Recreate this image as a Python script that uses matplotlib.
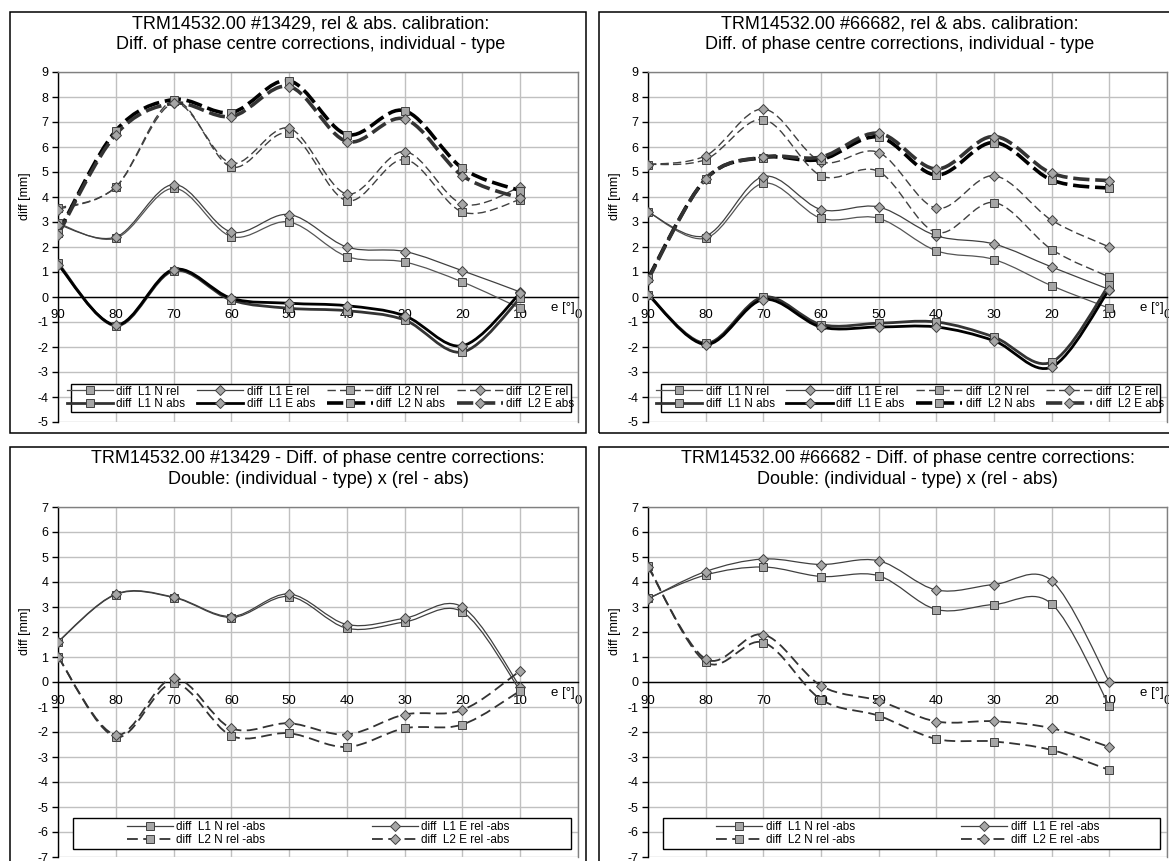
import matplotlib
matplotlib.use("Agg")
import matplotlib.pyplot as plt
from matplotlib.path import Path
from matplotlib.patches import PathPatch, Rectangle
from matplotlib.lines import Line2D
import numpy as np

plt.rcParams["font.family"] = ["Liberation Sans", "DejaVu Sans"]
plt.rcParams["axes.unicode_minus"] = False

# elevation angles [deg]
elev = [90, 80, 70, 60, 50, 40, 30, 20, 10]

# TRM14532.00 #13429 - individual minus type
a_l1n_rel = [2.95, 2.35, 4.35, 2.42, 3.0, 1.62, 1.4, 0.6, -0.45]
a_l1e_rel = [2.9, 2.4, 4.5, 2.6, 3.3, 2.0, 1.82, 1.05, 0.2]
a_l2n_rel = [3.55, 4.4, 7.85, 5.2, 6.55, 3.85, 5.5, 3.4, 3.9]
a_l2e_rel = [3.5, 4.4, 7.75, 5.35, 6.75, 4.12, 5.82, 3.72, 4.4]
a_l1n_abs = [1.35, -1.15, 1.05, -0.12, -0.45, -0.55, -0.92, -2.2, -0.05]
a_l1e_abs = [1.3, -1.12, 1.1, -0.05, -0.25, -0.35, -0.75, -1.95, 0.15]
a_l2n_abs = [2.55, 6.65, 7.9, 7.38, 8.65, 6.5, 7.45, 5.15, 4.25]
a_l2e_abs = [2.5, 6.5, 7.75, 7.22, 8.42, 6.22, 7.12, 4.85, 3.95]

# TRM14532.00 #66682 - individual minus type
b_l1n_rel = [3.4, 2.35, 4.55, 3.15, 3.15, 1.85, 1.5, 0.45, -0.45]
b_l1e_rel = [3.4, 2.45, 4.82, 3.5, 3.6, 2.45, 2.12, 1.2, 0.3]
b_l2n_rel = [5.3, 5.5, 7.1, 4.85, 5.02, 2.58, 3.78, 1.9, 0.8]
b_l2e_rel = [5.3, 5.65, 7.52, 5.42, 5.78, 3.55, 4.85, 3.07, 2.0]
b_l1n_abs = [0.1, -1.85, 0.0, -1.1, -1.05, -1.0, -1.6, -2.6, 0.5]
b_l1e_abs = [0.1, -1.9, -0.1, -1.2, -1.2, -1.2, -1.75, -2.8, 0.3]
b_l2n_abs = [0.75, 4.72, 5.58, 5.5, 6.4, 4.88, 6.18, 4.68, 4.35]
b_l2e_abs = [0.7, 4.72, 5.6, 5.6, 6.55, 5.12, 6.42, 4.95, 4.65]

# double differences (rel - abs)
a_l1n_dd = [1.6, 3.5, 3.38, 2.58, 3.42, 2.15, 2.4, 2.8, -0.35]
a_l1e_dd = [1.62, 3.52, 3.4, 2.62, 3.52, 2.3, 2.55, 3.0, -0.2]
a_l2n_dd = [1.02, -2.2, -0.05, -2.15, -2.05, -2.6, -1.85, -1.7, -0.35]
a_l2e_dd = [1.0, -2.12, 0.15, -1.85, -1.65, -2.1, -1.3, -1.12, 0.45]

b_l1n_dd = [3.35, 4.28, 4.6, 4.22, 4.25, 2.9, 3.1, 3.12, -0.95]
b_l1e_dd = [3.32, 4.42, 4.92, 4.7, 4.85, 3.68, 3.9, 4.05, 0.0]
b_l2n_dd = [4.65, 0.8, 1.58, -0.7, -1.35, -2.28, -2.38, -2.72, -3.52]
b_l2e_dd = [4.6, 0.92, 1.9, -0.15, -0.75, -1.58, -1.57, -1.85, -2.6]

x_ticks = [90, 80, 70, 60, 50, 40, 30, 20, 10, 0]

W, H = 1169, 861
fig = plt.figure(figsize=(W / 100, H / 100), dpi=100)
fig.patch.set_facecolor("white")


def px_rect(x0, y0, x1, y1):
    return [x0 / W, 1 - y1 / H, (x1 - x0) / W, (y1 - y0) / H]


def smooth_path(x, y):
    # excel-like smoothed line (cubic bezier through the points)
    pts = np.column_stack([x, y]).astype(float)
    n = len(pts)
    verts = [pts[0]]
    codes = [Path.MOVETO]
    for i in range(n - 1):
        p0 = pts[i - 1] if i > 0 else pts[i]
        p1, p2 = pts[i], pts[i + 1]
        p3 = pts[i + 2] if i + 2 < n else pts[i + 1]
        verts += [p1 + (p2 - p0) / 6, p2 - (p3 - p1) / 6, p2]
        codes += [Path.CURVE4] * 3
    return Path(verts, codes)


MFC = "#a6a6a6"
MEC = "#404040"


def series(ax, y, color, lw, ls, marker):
    ms = 5.5 if marker == "s" else 5.0
    ax.add_patch(PathPatch(smooth_path(elev, y), fill=False, edgecolor=color,
                           lw=lw, linestyle=ls, zorder=3, capstyle="butt"))
    ax.plot(elev, y, linestyle="none", marker=marker, ms=ms,
            mfc=MFC, mec=MEC, mew=0.7, zorder=4)
    return Line2D([], [], color=color, lw=lw, linestyle=ls, marker=marker,
                  ms=ms, mfc=MFC, mec=MEC, mew=0.7)


def setup_axes(ax, ymin, ymax, title, tx):
    ax.set_xlim(90, 0)
    ax.set_ylim(ymin, ymax)
    ax.set_xticks(x_ticks)
    ax.set_xticklabels([str(v) for v in x_ticks])
    ax.set_yticks(range(ymin, ymax + 1))
    ax.grid(True, color="#c0c0c0", lw=1.0)
    ax.set_axisbelow(True)
    for s in ("top", "right"):
        ax.spines[s].set_color("#808080")
        ax.spines[s].set_linewidth(1.0)
    ax.spines["left"].set_color("black")
    ax.spines["left"].set_linewidth(1.0)
    ax.spines["bottom"].set_position(("data", 0))
    ax.spines["bottom"].set_color("black")
    ax.spines["bottom"].set_linewidth(1.0)
    ax.tick_params(axis="y", direction="out", length=4, width=1, pad=3, labelsize=9)
    ax.tick_params(axis="x", length=0, pad=9, labelsize=9.5)
    ax.text(2.6, -0.2, "e [°]", ha="center", va="top", fontsize=9.5, zorder=6)
    ax.set_ylabel("diff [mm]", fontsize=9)
    ax.yaxis.set_label_coords(-0.052, 0.645)
    ax.text(tx, 1.108, title, transform=ax.transAxes, ha="center", va="center",
            fontsize=13, linespacing=1.3)


def legend_box(ax, x0, y0, x1, y1):
    ax.add_patch(Rectangle((x0, y0), x1 - x0, y1 - y0, transform=ax.transAxes,
                           facecolor="white", edgecolor="black", lw=1.0, zorder=5,
                           clip_on=False))


def top_panel(ax, d, title):
    setup_axes(ax, -5, 9, title, 0.485)
    l1nr, l1er, l2nr, l2er, l1na, l1ea, l2na, l2ea = d
    h = [
        series(ax, l1nr, "#555555", 0.9, "-", "s"),
        series(ax, l1er, "#404040", 0.9, "-", "D"),
        series(ax, l2nr, "#404040", 1.0, (0, (6, 3)), "s"),
        series(ax, l2er, "#404040", 1.0, (0, (6, 3)), "D"),
        series(ax, l1na, "#333333", 2.0, "-", "s"),
        series(ax, l1ea, "#000000", 2.0, "-", "D"),
        series(ax, l2na, "#000000", 2.6, (0, (4.5, 1.6)), "s"),
        series(ax, l2ea, "#333333", 2.6, (0, (4.5, 1.6)), "D"),
    ]
    labels = ["diff  L1 N rel", "diff  L1 E rel", "diff  L2 N rel", "diff  L2 E rel",
              "diff  L1 N abs", "diff  L1 E abs", "diff  L2 N abs", "diff  L2 E abs"]
    order = [0, 4, 1, 5, 2, 6, 3, 7]
    legend_box(ax, 0.025, 0.029, 0.987, 0.109)
    leg = ax.legend([h[i] for i in order], [labels[i] for i in order], ncol=4,
                    loc="center", bbox_to_anchor=(0.505, 0.069), frameon=False,
                    fontsize=8.5, handlelength=3.9, handletextpad=0.3,
                    columnspacing=1.0, labelspacing=0.05, borderpad=0)
    leg.set_zorder(6)


def bottom_panel(ax, d, title):
    setup_axes(ax, -7, 7, title, 0.5)
    l1n, l1e, l2n, l2e = d
    h = [
        series(ax, l1n, "#404040", 0.9, "-", "s"),
        series(ax, l1e, "#404040", 0.9, "-", "D"),
        series(ax, l2n, "#333333", 1.3, (0, (6, 3)), "s"),
        series(ax, l2e, "#333333", 1.3, (0, (6, 3)), "D"),
    ]
    labels = ["diff  L1 N rel -abs", "diff  L1 E rel -abs",
              "diff  L2 N rel -abs", "diff  L2 E rel -abs"]
    order = [0, 2, 1, 3]
    legend_box(ax, 0.029, 0.023, 0.987, 0.111)
    leg = ax.legend([h[i] for i in order], [labels[i] for i in order], ncol=2,
                    loc="center", bbox_to_anchor=(0.5, 0.067), frameon=False,
                    fontsize=8.5, handlelength=3.9, handletextpad=0.3,
                    columnspacing=9.0, labelspacing=0.05, borderpad=0)
    leg.set_zorder(6)


# panel frames
for r in [(10, 12, 586, 433), (599, 12, 1190, 433),
          (10, 447, 586, 880), (599, 447, 1190, 880)]:
    fig.add_artist(Rectangle((r[0] / W, 1 - r[3] / H), (r[2] - r[0]) / W,
                             (r[3] - r[1]) / H, transform=fig.transFigure,
                             fill=False, edgecolor="black", lw=1.1))

ax_tl = fig.add_axes(px_rect(58, 72, 578, 422))
ax_tr = fig.add_axes(px_rect(648, 72, 1167, 422))
ax_bl = fig.add_axes(px_rect(58, 507, 578, 857))
ax_br = fig.add_axes(px_rect(648, 507, 1167, 857))

top_panel(ax_tl, [a_l1n_rel, a_l1e_rel, a_l2n_rel, a_l2e_rel,
                  a_l1n_abs, a_l1e_abs, a_l2n_abs, a_l2e_abs],
          "TRM14532.00 #13429, rel & abs. calibration:\n"
          "Diff. of phase centre corrections, individual - type")
top_panel(ax_tr, [b_l1n_rel, b_l1e_rel, b_l2n_rel, b_l2e_rel,
                  b_l1n_abs, b_l1e_abs, b_l2n_abs, b_l2e_abs],
          "TRM14532.00 #66682, rel & abs. calibration:\n"
          "Diff. of phase centre corrections, individual - type")
bottom_panel(ax_bl, [a_l1n_dd, a_l1e_dd, a_l2n_dd, a_l2e_dd],
             "TRM14532.00 #13429 - Diff. of phase centre corrections:\n"
             "Double: (individual - type) x (rel - abs)")
bottom_panel(ax_br, [b_l1n_dd, b_l1e_dd, b_l2n_dd, b_l2e_dd],
             "TRM14532.00 #66682 - Diff. of phase centre corrections:\n"
             "Double: (individual - type) x (rel - abs)")

fig.savefig("out.png", dpi=100, facecolor="white")
